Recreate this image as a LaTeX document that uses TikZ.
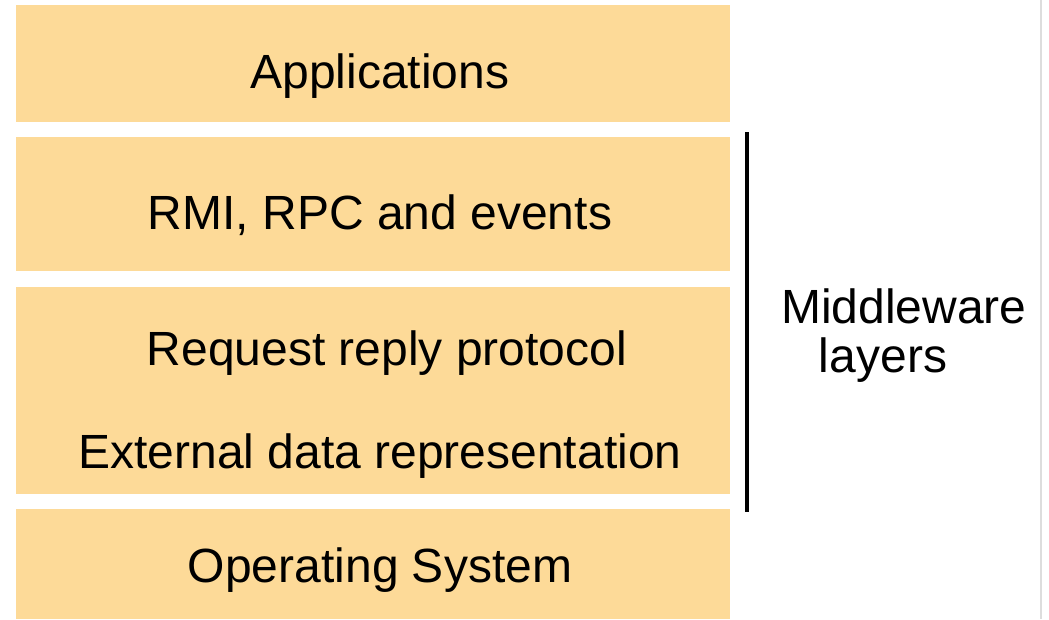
\documentclass[tikz,border=0pt]{standalone}
\usepackage{fontspec}
\setmainfont{Liberation Sans}
\definecolor{layerfill}{RGB}{253, 218, 152}
\definecolor{edgegray}{RGB}{221, 221, 221}
\usetikzlibrary{positioning}

\begin{document}
\begin{tikzpicture}[x=0.75pt, y=-0.75pt,
  layer/.style={fill=layerfill, draw=none, inner sep=0pt, anchor=north west, minimum width=535.5pt},
  label/.style={font=\fontsize{36}{43}\selectfont, inner sep=0pt}]
  \useasboundingbox (0,0) rectangle (1049,619);

  % Layers
  \node[layer, minimum height=87.75pt] (apps) at (16,5) {};
  \node[layer, minimum height=100.5pt] (rmi) at (16,137) {};
  \node[layer, minimum height=155.25pt] (rrp) at (16,287) {};
  \node[layer, minimum height=82.5pt] (os) at (16,509) {};

  % Labels
  \node[label] (appstext) at (380,76) {Applications};
  \node[label] (rmitext) at (380,215) {RMI, RPC and events};
  \node[label] (rrptext) at (387,353) {Request reply protocol};
  \node[label] (xdrtext) at (380,456) {External data representation};
  \node[label] (ostext) at (380,570) {Operating System};

  % Middleware bracket
  \coordinate (mwtop) at (747,132);
  \coordinate (mwbot) at (747,512);
  \draw[line width=2.5pt] (mwtop) -- (mwbot);
  \node[label] (mwlabel) at (904,306) {Middleware};
  \node[label] (mwlayers) at (883,360) {layers};

  % Right edge
  \draw[edgegray, line width=1.5pt] (1041,0) -- (1041,619);
\end{tikzpicture}
\end{document}
